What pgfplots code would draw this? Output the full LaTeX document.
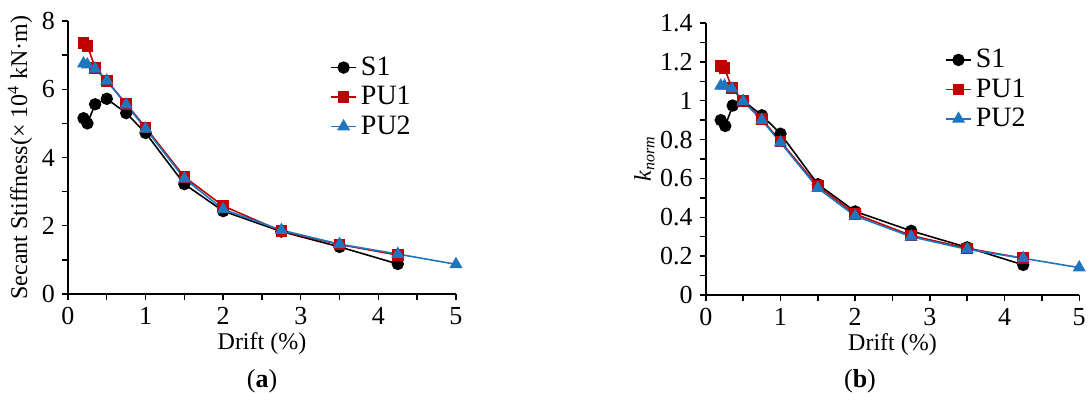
\documentclass[border=0pt]{standalone}
\usepackage{pgfplots}
\pgfplotsset{compat=1.18}
\usepackage{fontspec}
\setmainfont{Liberation Serif}
\definecolor{cS}{RGB}{0,0,0}
\definecolor{cPa}{RGB}{192,0,0}
\definecolor{cPb}{RGB}{30,118,190}

\pgfplotsset{
  panel/.style={
    scale only axis,
    axis lines=left,
    axis line style={-, line width=0.8pt},
    xmin=0, xmax=5,
    xtick={0,1,2,3,4,5},
    minor x tick num=1,
    minor y tick num=1,
    tick align=outside,
    major tick length=3pt,
    minor tick length=3pt,
    tick style={black, line width=0.7pt},
    every tick label/.append style={font=\fontsize{13}{15}\selectfont},
    /pgf/number format/assume math mode=true,
    label style={font=\fontsize{12}{14}\selectfont},
    xlabel={Drift (\%)},
    xlabel style={yshift=3pt},
    legend style={draw=none, fill=none, font=\fontsize{14}{16}\selectfont,
                  anchor=north west, row sep=0pt, inner sep=0pt},
    legend cell align=left,
    legend image code/.code={
      \draw[mark repeat=2,mark phase=2] plot coordinates {(0cm,0cm) (0.22cm,0cm) (0.44cm,0cm)};},
    clip=false,
  },
  sS/.style={color=cS, line width=0.8pt, mark=*, mark size=2.7pt, mark options={fill=cS}},
  sA/.style={color=cPa, line width=0.8pt, mark=square*, mark size=2.5pt, mark options={fill=cPa}},
  sB/.style={color=cPb, line width=0.8pt, mark=triangle*, mark size=3pt, mark options={fill=cPb}},
}

\begin{document}
\begin{tikzpicture}
\clip (0,0) rectangle (546pt,202.5pt);
\useasboundingbox (0,0) rectangle (546pt,202.5pt);

% (a) secant stiffness
\begin{axis}[panel,
  at={(34pt,55.5pt)}, anchor=origin,
  width=194pt, height=136.5pt,
  ymin=0, ymax=8,
  ytick={0,2,4,6,8},
  ylabel={Secant Stiffness(× 10\textsuperscript{4} kN·m)},
  ylabel style={yshift=-2pt},
  legend style={at={(0.675,0.885)}},
]
\addplot[sS] coordinates {(0.2,5.15) (0.25,5.0) (0.35,5.56) (0.5,5.72) (0.75,5.3) (1.0,4.72) (1.5,3.22) (2.0,2.43) (2.75,1.83) (3.5,1.38) (4.25,0.88)};
\addlegendentry{S1}
\addplot[sA] coordinates {(0.2,7.36) (0.25,7.27) (0.35,6.63) (0.5,6.25) (0.75,5.57) (1.0,4.88) (1.5,3.43) (2.0,2.58) (2.75,1.84) (3.5,1.45) (4.25,1.14)};
\addlegendentry{PU1}
\addplot[sB] coordinates {(0.2,6.75) (0.25,6.72) (0.35,6.6) (0.5,6.25) (0.75,5.55) (1.0,4.84) (1.5,3.38) (2.0,2.48) (2.75,1.87) (3.5,1.46) (4.25,1.17) (5.0,0.87)};
\addlegendentry{PU2}
\end{axis}

% (b) normalised stiffness
\begin{axis}[panel,
  at={(352.9pt,55pt)}, anchor=origin,
  width=186.7pt, height=136pt,
  ymin=0, ymax=1.4,
  ytick={0,0.2,0.4,0.6,0.8,1,1.2,1.4},
  yticklabels={0,0.2,0.4,0.6,0.8,1,1.2,1.4},
  ylabel={\textit{k}\textsubscript{\textit{norm}}},
  ylabel style={yshift=-4pt},
  legend style={at={(0.64,0.92)}},
]
\addplot[sS] coordinates {(0.2,0.90) (0.26,0.87) (0.36,0.975) (0.5,1.0) (0.75,0.925) (1.0,0.83) (1.5,0.57) (2.0,0.43) (2.75,0.33) (3.5,0.245) (4.25,0.155)};
\addlegendentry{S1}
\addplot[sA] coordinates {(0.2,1.18) (0.25,1.168) (0.35,1.065) (0.5,1.0) (0.75,0.905) (1.0,0.79) (1.5,0.56) (2.0,0.417) (2.75,0.306) (3.5,0.24) (4.25,0.189)};
\addlegendentry{PU1}
\addplot[sB] coordinates {(0.2,1.077) (0.25,1.077) (0.35,1.062) (0.5,0.997) (0.75,0.9) (1.0,0.785) (1.5,0.55) (2.0,0.407) (2.75,0.30) (3.5,0.235) (4.25,0.189) (5.0,0.141)};
\addlegendentry{PU2}
\end{axis}

\node[font=\fontsize{13}{15}\selectfont] at (131pt,12pt) {(\textbf{a})};
\node[font=\fontsize{13}{15}\selectfont] at (430pt,12pt) {(\textbf{b})};
\end{tikzpicture}
\end{document}
